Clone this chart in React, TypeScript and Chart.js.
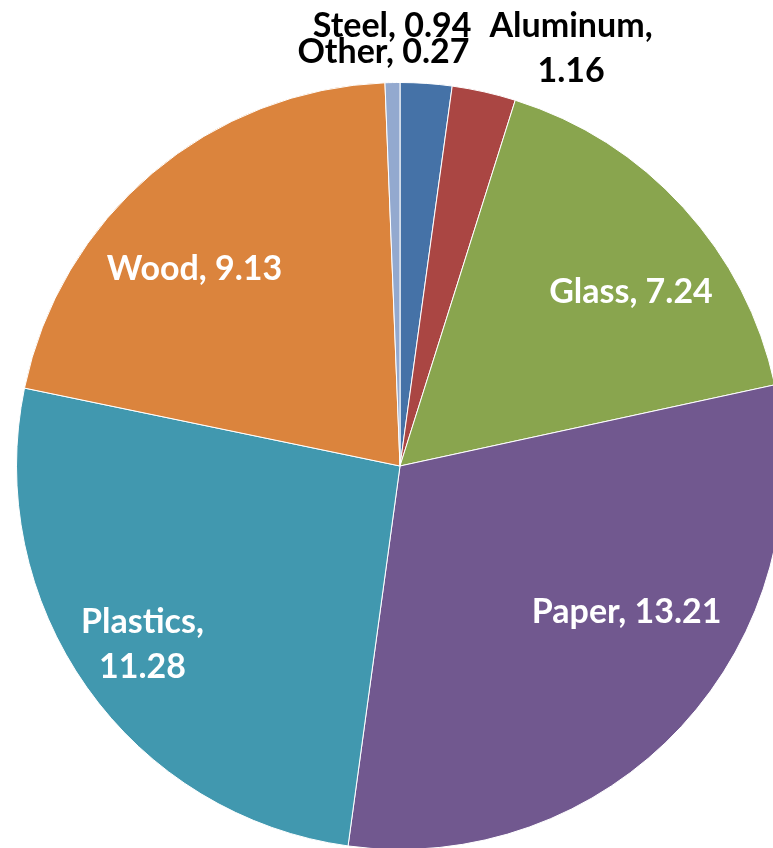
import React, { useEffect, useRef } from "react";
import { Chart, registerables } from "chart.js";

Chart.register(...registerables);

const categories = ["Steel", "Aluminum", "Glass", "Paper", "Plastics", "Wood", "Other"];
const values = [0.94, 1.16, 7.24, 13.21, 11.28, 9.13, 0.27];
const colors = ["#4572A7", "#AA4643", "#89A54E", "#71588F", "#4198AF", "#DB843D", "#93A9CF"];
const labelLines = [
  ["Steel, 0.94"],
  ["Aluminum,", "1.16"],
  ["Glass, 7.24"],
  ["Paper, 13.21"],
  ["Plastics,", "11.28"],
  ["Wood, 9.13"],
  ["Other, 0.27"],
];
// label placement: radial factor, pixel nudge of first baseline, colour
const labelRadius = [1.0, 1.0, 0.72, 0.72, 0.72, 0.72, 1.0];
const labelNudge = [
  [-34, -46],
  [87, -55],
  [27, 23],
  [24, -31],
  [-32, 8],
  [-27, 25],
  [-9, -20],
];
const labelColor = ["#000", "#000", "#fff", "#fff", "#fff", "#fff", "#000"];

const FONT = "bold 34px Lato, 'Open Sans', sans-serif";
const LINE_H = 45;

const labelPlugin = {
  id: "sliceLabels",
  afterDraw(chart: any) {
    const ctx = chart.ctx;
    const meta = chart.getDatasetMeta(0);
    ctx.save();
    ctx.font = FONT;
    ctx.textAlign = "center";
    ctx.textBaseline = "alphabetic";
    meta.data.forEach((arc: any, i: number) => {
      const mid = (arc.startAngle + arc.endAngle) / 2;
      const r = arc.outerRadius * labelRadius[i];
      const cx = arc.x + Math.cos(mid) * r + labelNudge[i][0];
      const cy = arc.y + Math.sin(mid) * r + labelNudge[i][1];
      ctx.fillStyle = labelColor[i];
      labelLines[i].forEach((t, j) => {
        ctx.fillText(t, cx, cy + j * LINE_H);
      });
    });
    ctx.restore();
  },
};

export default function App() {
  const ref = useRef<HTMLCanvasElement | null>(null);
  useEffect(() => {
    if (!ref.current) return;
    const chart = new Chart(ref.current, {
      type: "pie",
      data: {
        labels: categories,
        datasets: [
          {
            data: values,
            backgroundColor: colors,
            borderColor: "#ffffff",
            borderWidth: 1,
          },
        ],
      },
      options: {
        responsive: false,
        animation: false,
        rotation: 0,
        layout: { padding: { left: 16, top: 82, right: 16, bottom: 10 } },
        plugins: {
          legend: { display: false },
          tooltip: { enabled: false },
        },
      },
      plugins: [labelPlugin],
    });
    return () => chart.destroy();
  }, []);
  return (
    <div
      style={{
        position: "fixed",
        left: 0,
        top: 0,
        width: 773,
        height: 848,
        overflow: "hidden",
        background: "#fff",
      }}
    >
      <canvas ref={ref} width={800} height={860} style={{ position: "absolute", left: 0, top: 0 }} />
    </div>
  );
}
